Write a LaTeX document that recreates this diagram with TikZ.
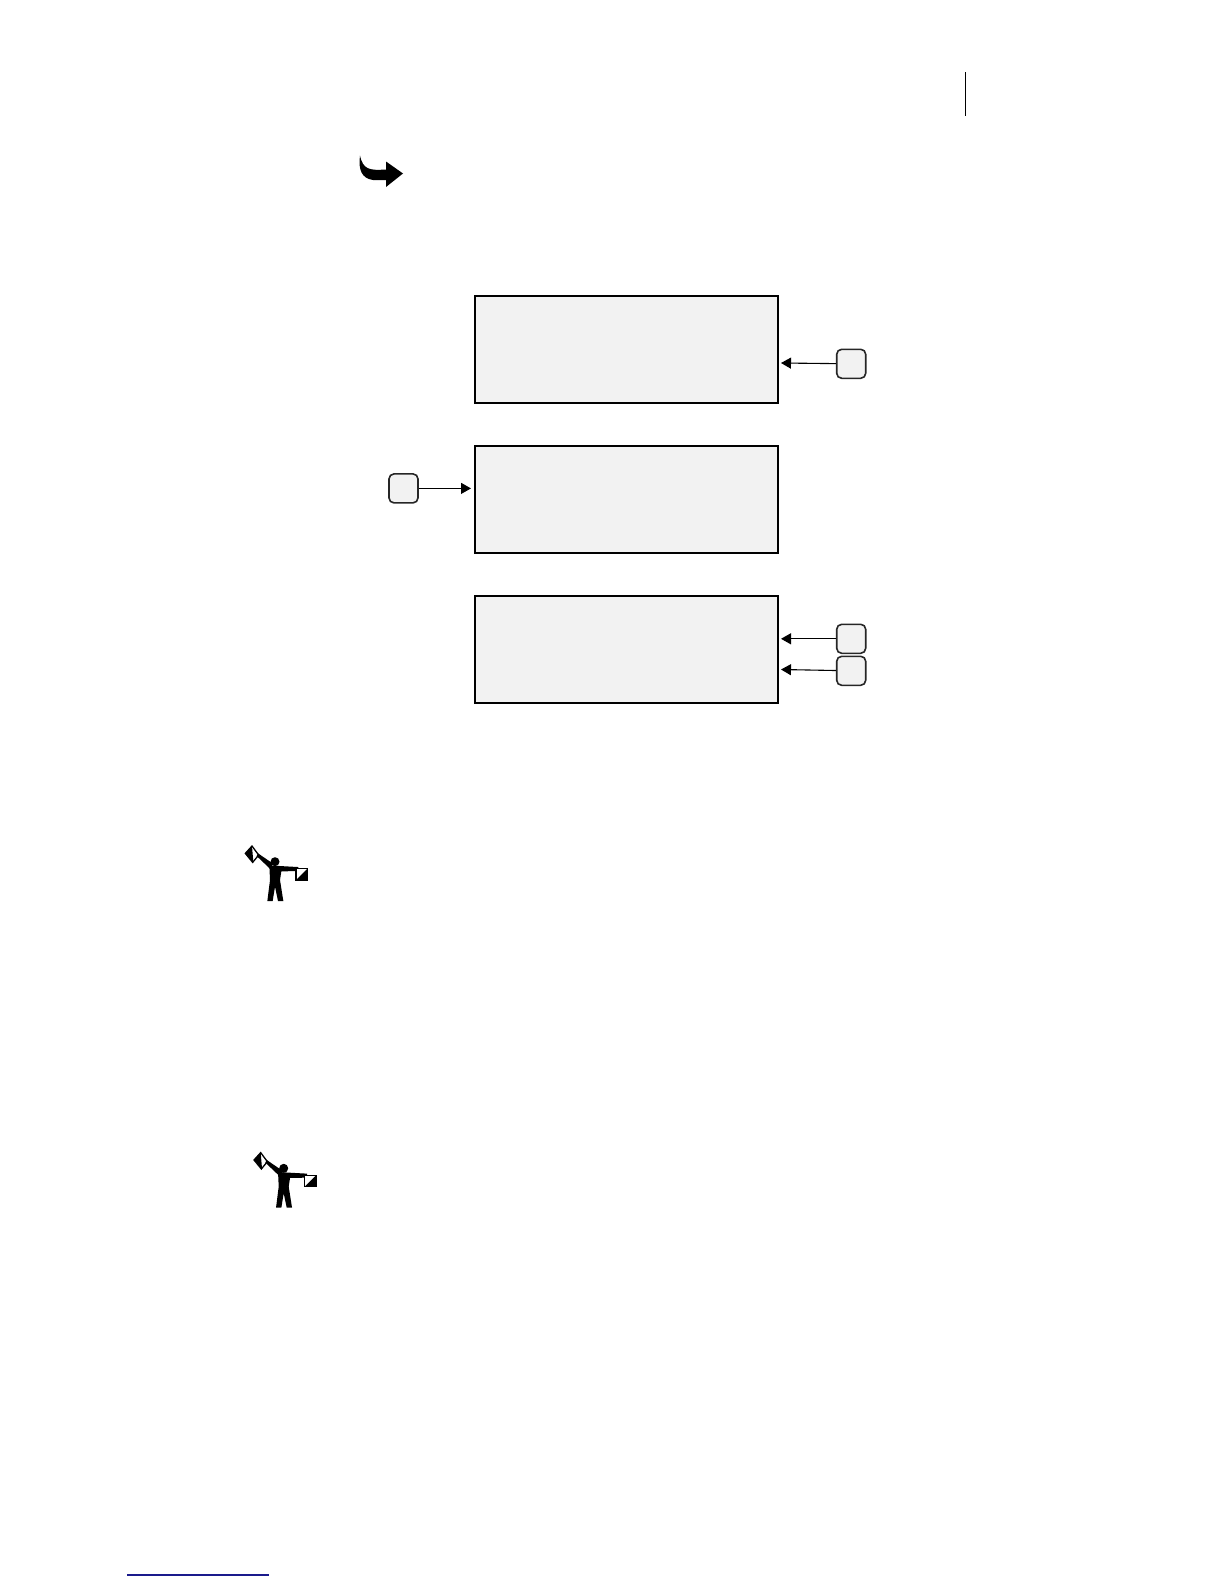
\documentclass[tikz,border=0pt]{standalone}
\usetikzlibrary{arrows.meta}
\definecolor{boxgray}{HTML}{F2F2F2}
\definecolor{footblue}{HTML}{1A1A8C}
\tikzset{
  bigbox/.style={draw=black,fill=boxgray,line width=2pt,minimum width=303pt,minimum height=107pt,inner sep=0pt,anchor=north west},
  tagbox/.style={draw=black!85,fill=boxgray,line width=1.6pt,rounded corners=5pt,minimum width=29pt,minimum height=29pt,inner sep=0pt},
  link/.style={draw=black,line width=1.1pt,-{Triangle[length=10pt,width=11pt]}},
  flagman/.pic={
    \begin{scope}[x=0.3333pt,y=-0.3333pt,shift={(-135,-95)}]
      \fill[white] (46,70)--(66,48)--(86,75)--(68,97)--cycle;
      \draw[line width=1.3pt] (46,70)--(66,48)--(86,75)--(68,97)--cycle;
      \fill (46,70)--(66,48)--(70,97)--cycle;
      \fill (84,70)--(128,100)--(122,118)--(80,78)--cycle;
      \fill (135,95) circle (13.5);
      \fill (118,106)--(150,108)--(205,111)--(205,123)--(154,124)--(150,150)--(160,213)--(144,213)--(135,170)--(128,213)--(112,213)--(120,150)--cycle;
      \fill[white] (198,116) rectangle (232,150);
      \fill (232,116)--(232,150)--(198,150)--cycle;
      \draw[line width=1.5pt] (198,116) rectangle (232,150);
    \end{scope}
  }
}
\begin{document}
\begin{tikzpicture}[x=1pt,y=-1pt]
\useasboundingbox (0,0) rectangle (1224,1584);
\draw[line width=1.2pt] (965.5,72.5) -- (965.5,116);
\fill (360,155.5) .. controls (363,170) and (370,170.5) .. (386,169.5) -- (386,161.5) -- (403,173.5) -- (386,187) -- (386,180) -- (373,180) .. controls (362,178.5) and (358,170) .. (360,155.5) -- cycle;
\node[bigbox] (b1) at (474,295) {};
\node[bigbox] (b2) at (474,444.8) {};
\node[bigbox] (b3) at (474,594.8) {};
\node[tagbox] (t1) at (851.2,363.8) {};
\node[tagbox] (t2) at (403.5,488.4) {};
\node[tagbox] (t3) at (851.2,638.8) {};
\node[tagbox] (t4) at (851.2,670.8) {};
\coordinate (e1) at (781,363);
\coordinate (e2) at (471,488.4);
\coordinate (e3) at (781,638.8);
\coordinate (e4) at (781,669.5);
\draw[link] (t1) -- (e1);
\draw[link] (t2) -- (e2);
\draw[link] (t3) -- (e3);
\draw[link] (t4) -- (e4);
\pic at (275,861.7) {flagman};
\pic at (283.7,1168.3) {flagman};
\draw[footblue,line width=1.2pt] (127,1575) -- (269,1575);
\end{tikzpicture}
\end{document}
